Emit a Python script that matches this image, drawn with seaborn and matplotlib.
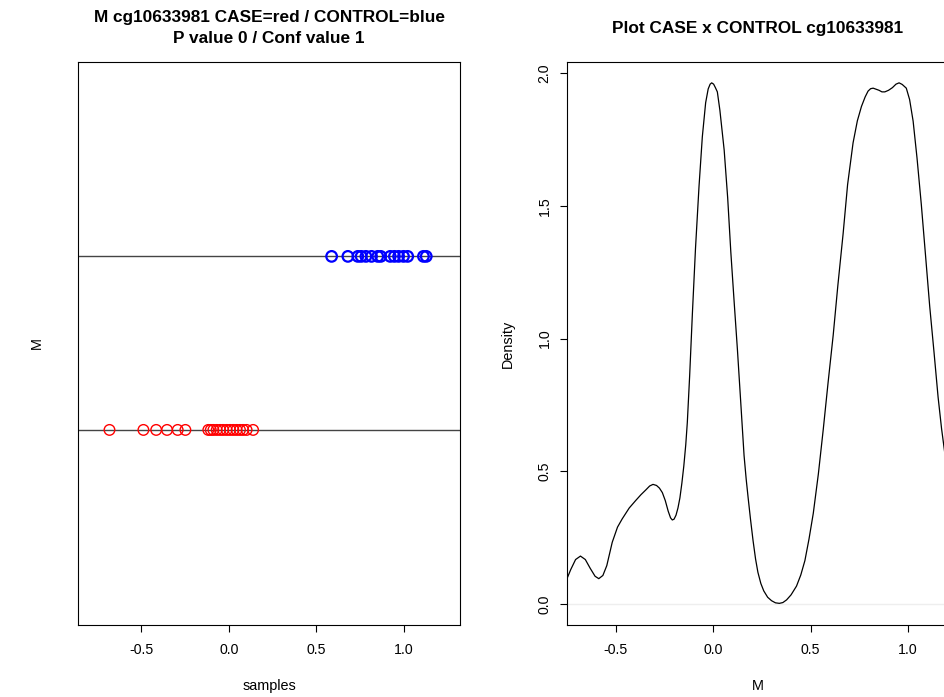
import numpy as np
import pandas as pd
import matplotlib
matplotlib.use("Agg")
import matplotlib.pyplot as plt
import matplotlib.ticker as ticker
import seaborn as sns

probe = "cg10633981"
p_value = 0
conf_value = 1

# M values per group
case_m = [-0.683, -0.489, -0.416, -0.354, -0.293, -0.249,
          -0.118, -0.104, -0.089, -0.070, -0.051, -0.033, -0.013,
          0.006, 0.025, 0.044, 0.063, 0.081, 0.101, 0.138]
control_m = [0.587, 0.680, 0.737, 0.756, 0.783, 0.815, 0.851, 0.868,
             0.922, 0.946, 0.970, 0.998, 1.022, 1.112, 1.128]

# density curve
dens_x = [-0.753, -0.730, -0.705, -0.680, -0.655, -0.630, -0.605, -0.586,
          -0.565, -0.545, -0.517, -0.490, -0.466, -0.430, -0.397, -0.370,
          -0.345, -0.325, -0.308, -0.290, -0.275, -0.260, -0.245, -0.230,
          -0.218, -0.209, -0.200, -0.190, -0.180, -0.170, -0.160, -0.150,
          -0.140, -0.132, -0.120, -0.106, -0.090, -0.072, -0.055, -0.038,
          -0.025, -0.015, -0.007, 0.003, 0.012, 0.022, 0.035, 0.057, 0.075,
          0.091, 0.108, 0.125, 0.142, 0.159, 0.170, 0.180, 0.192, 0.205,
          0.218, 0.230, 0.245, 0.260, 0.280, 0.300, 0.320, 0.340, 0.358,
          0.377, 0.400, 0.428, 0.450, 0.471, 0.492, 0.514, 0.540, 0.565,
          0.590, 0.616, 0.640, 0.667, 0.690, 0.718, 0.740, 0.761, 0.780,
          0.795, 0.808, 0.821, 0.836, 0.851, 0.866, 0.881, 0.900, 0.920,
          0.938, 0.954, 0.970, 0.991, 1.008, 1.026, 1.046, 1.068, 1.090,
          1.111, 1.133, 1.154, 1.172, 1.190]
dens_y = [0.089, 0.130, 0.168, 0.181, 0.168, 0.135, 0.105, 0.096,
          0.108, 0.145, 0.233, 0.290, 0.321, 0.362, 0.390, 0.412,
          0.430, 0.445, 0.451, 0.447, 0.437, 0.420, 0.390, 0.350,
          0.325, 0.317, 0.320, 0.335, 0.362, 0.400, 0.455, 0.520,
          0.600, 0.684, 0.860, 1.094, 1.340, 1.573, 1.760, 1.888,
          1.940, 1.958, 1.963, 1.958, 1.945, 1.929, 1.860, 1.710, 1.530,
          1.327, 1.140, 0.958, 0.760, 0.560, 0.470, 0.400, 0.320, 0.240,
          0.170, 0.120, 0.078, 0.050, 0.026, 0.013, 0.005, 0.003, 0.006,
          0.016, 0.035, 0.068, 0.110, 0.164, 0.245, 0.342, 0.490, 0.657,
          0.835, 1.012, 1.200, 1.395, 1.580, 1.737, 1.820, 1.874, 1.910,
          1.932, 1.941, 1.943, 1.939, 1.935, 1.929, 1.929, 1.935, 1.945,
          1.958, 1.963, 1.957, 1.943, 1.900, 1.819, 1.680, 1.505, 1.310,
          1.122, 0.950, 0.780, 0.660, 0.560]

group_level = {"CASE": 1, "CONTROL": 2}
group_color = {"CASE": "red", "CONTROL": "blue"}
group_lw = {"CASE": 1.0, "CONTROL": 1.6}

df = pd.DataFrame({
    "M": case_m + control_m,
    "group": ["CASE"] * len(case_m) + ["CONTROL"] * len(control_m),
})
df["level"] = df["group"].map(group_level)

sns.set_theme(style="ticks")
plt.rcParams["font.family"] = ["Liberation Sans", "DejaVu Sans"]
plt.rcParams["axes.unicode_minus"] = False
plt.rcParams["axes.edgecolor"] = "black"
plt.rcParams["axes.linewidth"] = 0.8
plt.rcParams["text.color"] = "black"
plt.rcParams["axes.labelcolor"] = "black"
plt.rcParams["axes.titlecolor"] = "black"

fig = plt.figure(figsize=(9.44, 6.97), dpi=100)
ax1 = fig.add_axes([78 / 944, 72 / 697, 382 / 944, 563 / 697])
ax2 = fig.add_axes([567 / 944, 72 / 697, 382 / 944, 563 / 697])

# left: strip chart
for g, lvl in group_level.items():
    ax1.axhline(lvl, color="#444444", lw=1.0, zorder=1)
for g in group_level:
    sub = df[df["group"] == g]
    sns.scatterplot(data=sub, x="M", y="level", ax=ax1, marker="o", s=58,
                    color=group_color[g], legend=False, zorder=3)
    pts = ax1.collections[-1]
    pts.set_facecolors("none")
    pts.set_edgecolors(group_color[g])
    pts.set_linewidths(group_lw[g])

ax1.set_xlim(-0.863, 1.321)
ax1.set_ylim(-0.124, 3.12)
ax1.set_yticks([])
ax1.set_xticks([-0.5, 0.0, 0.5, 1.0])
ax1.xaxis.set_major_formatter(ticker.FormatStrFormatter("%.1f"))
ax1.set_xlabel("samples", fontsize=10.4, va="center")
ax1.xaxis.set_label_coords(0.5, -61 / 563)
ax1.set_ylabel("M", fontsize=10.4, va="center")
ax1.yaxis.set_label_coords(-41 / 382, 0.5)
ax1.set_title(f"M {probe} CASE=red / CONTROL=blue\nP value {p_value} / Conf value {conf_value}",
              fontsize=12.4, fontweight="bold", y=1 + 34 / 563, va="center",
              linespacing=1.45, pad=0)

# right: density
ax2.axhline(0, color="#eeeeee", lw=1.0, zorder=1)
sns.lineplot(x=dens_x, y=dens_y, ax=ax2, color="black", lw=0.9, sort=False,
             zorder=2)
ax2.set_xlim(-0.749, 1.21)
ax2.set_ylim(-0.0785, 2.0415)
ax2.set_xticks([-0.5, 0.0, 0.5, 1.0])
ax2.set_yticks([0.0, 0.5, 1.0, 1.5, 2.0])
ax2.xaxis.set_major_formatter(ticker.FormatStrFormatter("%.1f"))
ax2.yaxis.set_major_formatter(ticker.FormatStrFormatter("%.1f"))
ax2.set_xlabel("M", fontsize=10.4, va="center")
ax2.xaxis.set_label_coords(0.5, -61 / 563)
ax2.set_ylabel("Density", fontsize=10.4, va="center")
ax2.yaxis.set_label_coords(-59 / 382, 0.5)
ax2.set_title(f"Plot CASE x CONTROL {probe}", fontsize=12.4,
              fontweight="bold", y=1 + 34 / 563, va="center", pad=0)
ax2.tick_params(axis="y", labelrotation=90)
plt.setp(ax2.get_yticklabels(), va="center")

for ax in (ax1, ax2):
    for side in ("top", "right", "left", "bottom"):
        ax.spines[side].set_visible(True)
        ax.spines[side].set_color("black")
    ax.tick_params(direction="out", length=5, width=0.8, colors="black",
                   labelsize=10.2)
    ax.tick_params(axis="x", pad=8)
    ax.tick_params(axis="y", pad=6)
    ax.grid(False)

fig.savefig("out.png", dpi=100)
